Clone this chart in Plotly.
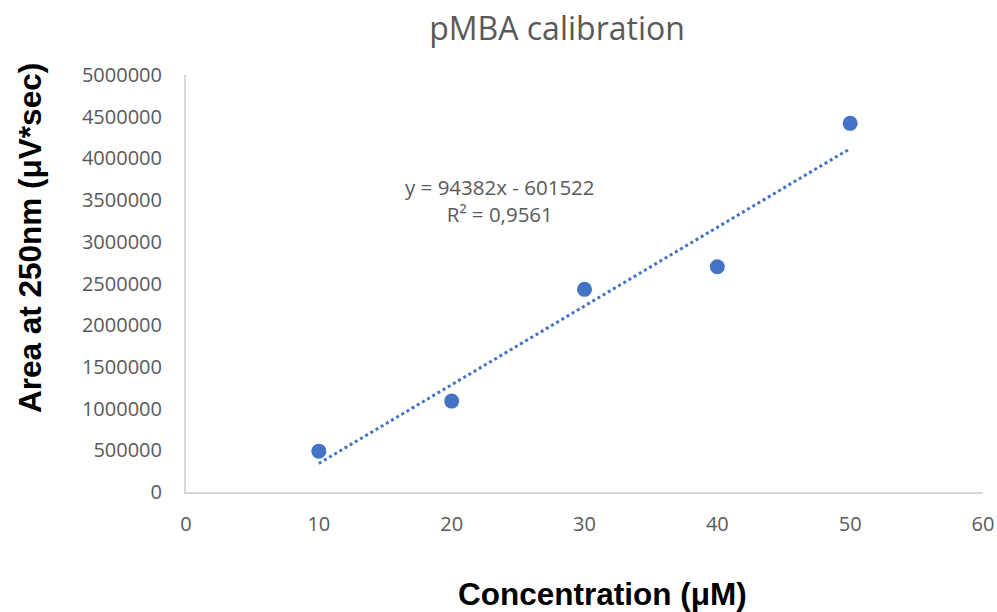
import plotly.graph_objects as go

concentration = [10, 20, 30, 40, 50]
area = [490000, 1090000, 2430000, 2700000, 4420000]
slope = 94382
intercept = -601522
r_squared = "0,9561"
x_ticks = [0, 10, 20, 30, 40, 50, 60]
y_ticks = [0, 500000, 1000000, 1500000, 2000000, 2500000, 3000000,
           3500000, 4000000, 4500000, 5000000]

trend_x = [min(concentration), max(concentration)]
trend_y = [slope * x + intercept for x in trend_x]

blue = "#4472C4"
gray = "#595959"
tick_font = dict(family="Open Sans, Liberation Sans, sans-serif", size=20, color=gray)
bold_font = dict(family="Liberation Sans, Arial, sans-serif", size=31.5, color="black", weight="bold")

fig = go.Figure()
fig.add_trace(go.Scatter(x=trend_x, y=trend_y, mode="lines",
                         line=dict(color=blue, width=3, dash="dot"),
                         hoverinfo="skip", showlegend=False))
fig.add_trace(go.Scatter(x=concentration, y=area, mode="markers",
                         marker=dict(color=blue, size=15),
                         showlegend=False))

fig.update_layout(
    width=997, height=612, autosize=False,
    margin=dict(l=186, r=14, t=75, b=120, autoexpand=False),
    plot_bgcolor="white", paper_bgcolor="white",
    title=dict(text="pMBA calibration", xref="container", yref="container", x=0.5587, xanchor="center",
               y=0.953, yanchor="middle",
               font=dict(family="Open Sans, Liberation Sans, sans-serif", size=32, color=gray)),
    xaxis=dict(range=[0, 60], tickvals=x_ticks, showgrid=False, automargin=False,
               zeroline=False, showline=True, linecolor="#D9D9D9", linewidth=2,
               tickfont=tick_font, ticks="outside", ticklen=13, tickcolor="rgba(0,0,0,0)"),
    yaxis=dict(range=[0, 5000000], tickvals=y_ticks, automargin=False,
               ticktext=[str(v) for v in y_ticks], showgrid=False,
               zeroline=False, showline=True, linecolor="#D9D9D9", linewidth=2,
               tickfont=tick_font, ticks="outside", ticklen=18, tickcolor="rgba(0,0,0,0)"),
    annotations=[
        dict(text="Concentration (μM)", xref="paper", yref="paper", x=0.523, y=-0.245,
             xanchor="center", yanchor="middle", showarrow=False, font=bold_font),
        dict(text="Area at 250nm (μV*sec)", xref="paper", yref="paper", x=-0.196, y=1.033,
             xanchor="center", yanchor="top", textangle=-90, showarrow=False, font=bold_font),
        dict(text=f"y = {slope}x - {abs(intercept)}<br>R² = {r_squared}",
             x=23.64, y=3490000, xanchor="center", yanchor="middle", showarrow=False, align="center",
             font=dict(family="Open Sans, Liberation Sans, sans-serif", size=20.5, color=gray)),
    ],
)

fig.write_html("out.html",
               config={"responsive": False, "displayModeBar": False},
               post_script="document.body.style.margin='0';document.body.style.overflow='hidden';")
